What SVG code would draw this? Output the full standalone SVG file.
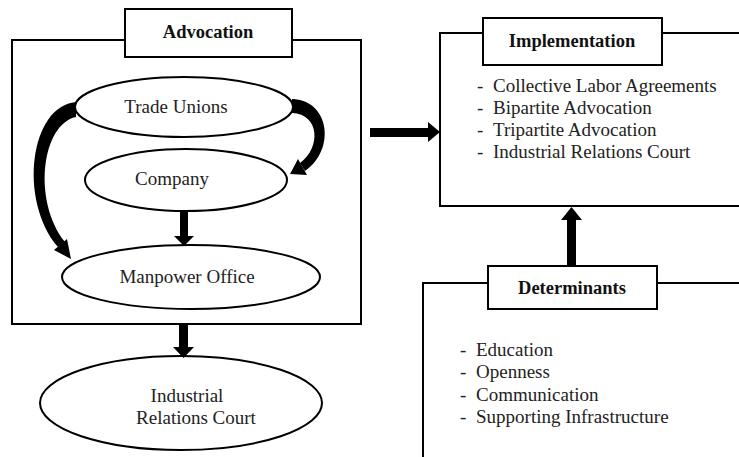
<svg xmlns="http://www.w3.org/2000/svg" width="739" height="457" viewBox="0 0 739 457">
<style>
.box{fill:none;stroke:#000;stroke-width:2}
.lbl{fill:#fff;stroke:#000;stroke-width:2}
.ell{fill:#fff;stroke:#000;stroke-width:2}
.t{font-family:"Liberation Serif","Times New Roman",serif;font-size:19px;fill:#222}
.b{font-family:"Liberation Serif","Times New Roman",serif;font-size:18.5px;font-weight:bold;fill:#111}
.m{text-anchor:middle}
.arr{fill:#000;stroke:none}
</style>
<rect width="739" height="457" fill="#fff"/>
<g id="advocation">
<rect class="box" x="12" y="40" width="349" height="284"/>
<rect class="lbl" x="125" y="9" width="167" height="48"/>
<text class="b m" x="208" y="38">Advocation</text>
</g>
<g id="trade-unions">
<ellipse class="ell" cx="184" cy="107" rx="109" ry="30"/>
<text class="t m" x="176" y="113">Trade Unions</text>
</g>
<g id="company">
<ellipse class="ell" cx="186" cy="180" rx="101" ry="31"/>
<text class="t m" x="172" y="185">Company</text>
</g>
<g id="manpower-office">
<ellipse class="ell" cx="191" cy="277" rx="129" ry="32"/>
<text class="t m" x="187" y="283">Manpower Office</text>
</g>
<g id="industrial-relations-court">
<ellipse class="ell" cx="181" cy="403" rx="141" ry="47"/>
<text class="t m" x="187" y="402">Industrial</text>
<text class="t m" x="196" y="424">Relations Court</text>
</g>
<g id="implementation">
<rect class="box" x="440" y="33" width="310" height="173"/>
<rect class="lbl" x="483" y="18" width="179" height="47"/>
<text class="b m" x="572" y="47">Implementation</text>
<text class="t" x="477" y="92">-</text><text class="t" x="493" y="92">Collective Labor Agreements</text>
<text class="t" x="477" y="114">-</text><text class="t" x="493" y="114">Bipartite Advocation</text>
<text class="t" x="477" y="136">-</text><text class="t" x="493" y="136">Tripartite Advocation</text>
<text class="t" x="477" y="158">-</text><text class="t" x="493" y="158">Industrial Relations Court</text>
</g>
<g id="determinants">
<rect class="box" x="423" y="283" width="330" height="200"/>
<rect class="lbl" x="488" y="266" width="169" height="43"/>
<text class="b m" x="572" y="294">Determinants</text>
<text class="t" x="460" y="356">-</text><text class="t" x="476" y="356">Education</text>
<text class="t" x="460" y="378">-</text><text class="t" x="476" y="378">Openness</text>
<text class="t" x="460" y="401">-</text><text class="t" x="476" y="401">Communication</text>
<text class="t" x="460" y="423">-</text><text class="t" x="476" y="423">Supporting Infrastructure</text>
</g>
<g id="connectors">
<path class="arr" d="M76,102 C30,106 18,200 58,247 L65,242 C32,200 42,124 76,117 Z"/>
<polygon class="arr" points="67,239 54,250 71,259"/>
<path class="arr" d="M292,99 C330,100 336,150 305,171 L300,163 C321,148 320,114 292,113 Z"/>
<polygon class="arr" points="307,175 298,159 290,174"/>
<rect class="arr" x="180" y="211" width="8" height="26"/>
<polygon class="arr" points="174,236 194,236 184,246"/>
<rect class="arr" x="179" y="325" width="9" height="23"/>
<polygon class="arr" points="173,347 194,347 183.5,358"/>
<rect class="arr" x="370" y="128" width="59" height="9"/>
<polygon class="arr" points="428,122 428,142 440,132"/>
<rect class="arr" x="567" y="219" width="9" height="47"/>
<polygon class="arr" points="561,220 582,220 571.5,207"/>
</g>
</svg>
